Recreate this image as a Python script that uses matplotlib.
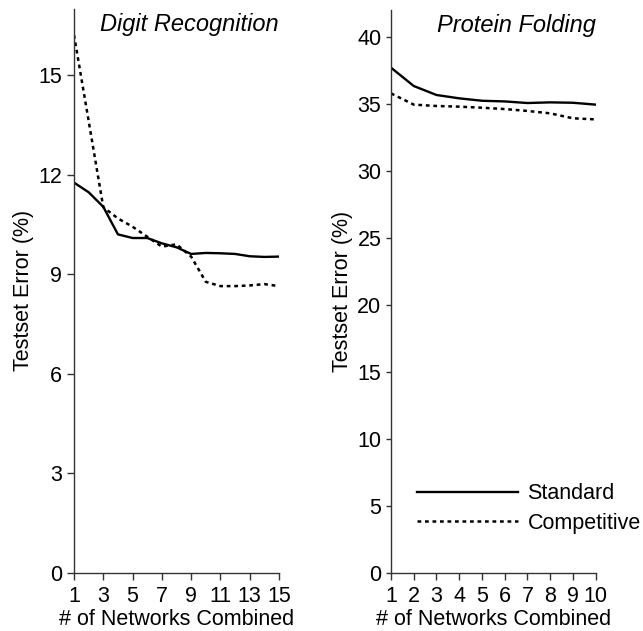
import matplotlib
matplotlib.use("Agg")
import matplotlib.pyplot as plt

plt.rcParams['font.family'] = ['Liberation Sans', 'DejaVu Sans']

# Digit recognition data
digit_x = list(range(1, 16))
digit_standard = [11.76, 11.47, 11.03, 10.20, 10.09, 10.09, 9.93, 9.81, 9.61, 9.64, 9.63, 9.61, 9.54, 9.52, 9.53]
digit_competitive = [16.21, 13.62, 11.02, 10.68, 10.43, 10.13, 9.83, 9.90, 9.53, 8.77, 8.64, 8.64, 8.66, 8.70, 8.64]
digit_xticks = [1, 3, 5, 7, 9, 11, 13, 15]
digit_yticks = [0, 3, 6, 9, 12, 15]

# Protein folding data
prot_x = list(range(1, 11))
prot_standard = [37.69, 36.32, 35.65, 35.40, 35.22, 35.17, 35.05, 35.10, 35.07, 34.93]
prot_competitive = [35.77, 34.93, 34.83, 34.78, 34.70, 34.60, 34.46, 34.28, 33.91, 33.83]
prot_xticks = list(range(1, 11))
prot_yticks = [0, 5, 10, 15, 20, 25, 30, 35, 40]

labels = ["Standard", "Competitive"]

W, H = 643, 631
fig = plt.figure(figsize=(W/100, H/100), dpi=100)

def px_axes(l, r, b, t):
    return fig.add_axes([l/W, 1 - b/H, (r - l)/W, (b - t)/H])

fs = 15.5
dash = (0, (1.5, 1.5))

ax1 = px_axes(74, 279, 572.7, 572.7 - 17*33.17)
ax2 = px_axes(391, 595.7, 572.7, 572.7 - 42*13.4)

for ax, x, s, c, xt, yt, ylim, title, tl in [
    (ax1, digit_x, digit_standard, digit_competitive, digit_xticks, digit_yticks, 17, "Digit Recognition", 5),
    (ax2, prot_x, prot_standard, prot_competitive, prot_xticks, prot_yticks, 42, "Protein Folding", 3.5),
]:
    ax.plot(x, s, color='black', lw=1.7, ls='-', label=labels[0])
    ax.plot(x, c, color='black', lw=1.8, ls=dash, label=labels[1])
    ax.set_xlim(x[0], x[-1])
    ax.set_ylim(0, ylim)
    ax.set_xticks(xt)
    ax.set_yticks(yt)
    ax.tick_params(direction='out', length=tl, width=1, labelsize=fs, pad=3.5, color='#333333')
    ax.tick_params(axis='x', length=5, pad=4.5)
    for sp in ['top', 'right']:
        ax.spines[sp].set_visible(False)
    for sp in ['left', 'bottom']:
        ax.spines[sp].set_linewidth(1.0)
        ax.spines[sp].set_color('#333333')
    ax.set_xlabel("# of Networks Combined", fontsize=fs, labelpad=1.5)
    ax.set_ylabel("Testset Error (%)", fontsize=fs, labelpad=3)
    ax.text(1.0, 0.993, title, transform=ax.transAxes, ha='right', va='top',
            fontsize=17, style='italic')
    ax.patch.set_visible(False)

ax2.legend(loc='upper left', bbox_to_anchor=(0.1255, 0.159), frameon=False,
           fontsize=fs, handlelength=4.7, handletextpad=0.45, borderaxespad=0,
           borderpad=0, labelspacing=0.4)

fig.savefig("out.png", dpi=100)
